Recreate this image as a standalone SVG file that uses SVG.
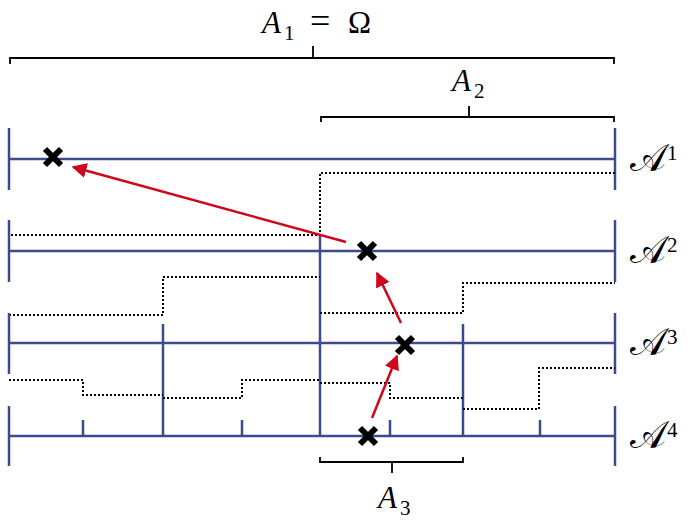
<svg xmlns="http://www.w3.org/2000/svg" width="694" height="523" viewBox="0 0 694 523">
<style>
.lvl{stroke:#3d4b8e;stroke-width:2.5;fill:none}
.dot{stroke:#000;stroke-width:2;stroke-dasharray:2 2;fill:none}
.br{stroke:#000;stroke-width:1.8;fill:none}
.mk{stroke:#000;stroke-width:6;fill:none}
.ar{stroke:#d0061c;stroke-width:2.5;fill:none}
.t{font-family:"Liberation Serif","DejaVu Serif",serif;font-size:31px;fill:#000}
.sub{font-size:21px;font-style:normal}
.cal{font-family:"DejaVu Sans","Noto Sans",serif;font-size:38px;fill:#000}
.sup{font-family:"Liberation Serif","DejaVu Serif",serif;font-size:21px}
</style>
<defs>
<marker id="ah" viewBox="0 0 10 10" refX="9" refY="5" markerWidth="6" markerHeight="6" orient="auto" markerUnits="strokeWidth">
<path d="M0,0 L10,5 L0,10 z" fill="#d0061c"/>
</marker>
<path id="x" class="mk" d="M-8,-8 L8,8 M-8,8 L8,-8"/>
</defs>
<rect width="694" height="523" fill="#fff"/>

<g id="braceA1">
<path class="br" d="M10,64 L10,58 L614,58 L614,64 M313,58 L313,46"/>
<text class="t" y="33"><tspan x="262" font-style="italic">A</tspan><tspan class="sub" x="284" y="40">1</tspan><tspan x="310" y="33" font-size="36">=</tspan><tspan x="348">Ω</tspan></text>
</g>
<g id="braceA2">
<path class="br" d="M321,122 L321,117 L614,117 L614,122 M469,117 L469,106"/>
<text class="t" y="91"><tspan x="452" font-style="italic">A</tspan><tspan class="sub" x="474" y="98">2</tspan></text>
</g>
<g id="braceA3">
<path class="br" d="M320,457 L320,462 L463,462 L463,457 M392,462 L392,473"/>
<text class="t" y="508"><tspan x="378" font-style="italic">A</tspan><tspan class="sub" x="400" y="515">3</tspan></text>
</g>

<g id="level1">
<path class="lvl" d="M10,159 L614,159 M9,128 L9,190 M615,128 L615,190"/>
<path class="dot" d="M615,173 L320,173 L320,235 L9,235"/>
<text class="cal" x="630" y="171">𝒜<tspan class="sup" x="667" y="160">1</tspan></text>
</g>
<g id="level2">
<path class="lvl" d="M10,251 L614,251 M9,220 L9,282 M615,220 L615,282 M320,235 L320,436"/>
<path class="dot" d="M9,315 L163,315 L163,277 L320,277 M320,313 L463,313 L463,283 L615,283"/>
<text class="cal" x="630" y="263">𝒜<tspan class="sup" x="667" y="252">2</tspan></text>
</g>
<g id="level3">
<path class="lvl" d="M10,343 L614,343 M9,313 L9,374 M615,313 L615,374 M163,324 L163,436 M463,324 L463,436"/>
<path class="dot" d="M9,380 L83,380 L83,395 L163,395 M163,398 L242,398 L242,380 L320,380 M320,383 L390,383 L390,398 L463,398 M463,409 L539,409 L539,368 L615,368"/>
<text class="cal" x="630" y="355">𝒜<tspan class="sup" x="667" y="344">3</tspan></text>
</g>
<g id="level4">
<path class="lvl" d="M10,436 L614,436 M9,406 L9,466 M615,406 L615,466 M83,420 L83,436 M242,420 L242,436 M390,420 L390,436 M540,420 L540,436"/>
<text class="cal" x="630" y="448">𝒜<tspan class="sup" x="667" y="437">4</tspan></text>
</g>

<g id="markers">
<use href="#x" x="53" y="157"/>
<use href="#x" x="367" y="251"/>
<use href="#x" x="405" y="345"/>
<use href="#x" x="368" y="436"/>
</g>

<g id="connectors">
<path class="ar" marker-end="url(#ah)" d="M346,242 L73,167"/>
<path class="ar" marker-end="url(#ah)" d="M401,323 L377,273"/>
<path class="ar" marker-end="url(#ah)" d="M372,418 L397,356"/>
</g>
</svg>
